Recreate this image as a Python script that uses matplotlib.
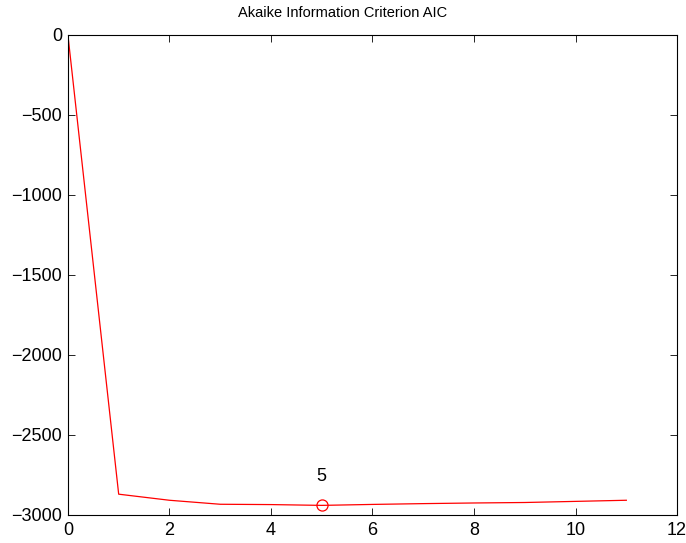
import matplotlib
matplotlib.use("Agg")
import matplotlib.pyplot as plt

# model order vs AIC value
order = [0, 1, 2, 3, 4, 5, 6, 7, 8, 9, 10, 11]
aic = [0, -2870, -2908, -2933, -2935, -2940, -2934, -2929, -2925, -2922, -2915, -2908]
best = 5

plt.rcParams['font.family'] = ['Liberation Sans', 'DejaVu Sans']

fig = plt.figure(figsize=(6.86, 5.43), dpi=100)
ax = fig.add_axes([0.099, 0.0516, 0.888, 0.884])

ax.plot(order, aic, color='red', linewidth=0.9)
ax.plot(best, aic[best], 'o', markerfacecolor='none', markeredgecolor='red',
        markersize=8, markeredgewidth=0.9)
ax.text(best, aic[best] + 125, str(best), ha='center', va='bottom', fontsize=13)

ax.set_xlim(0, 12)
ax.set_ylim(-3000, 0)
ax.set_xticks(range(0, 13, 2))
ax.set_yticks(range(-3000, 1, 500))
ax.set_yticklabels(['\u22123000', '\u22122500', '\u22122000', '\u22121500', '\u22121000', '\u2212500', '0'])
ax.tick_params(direction='in', top=True, right=True, labelsize=13, length=5, width=0.6)
ax.tick_params(axis='x', pad=5)
ax.tick_params(axis='y', pad=4)
for s in ax.spines.values():
    s.set_linewidth(0.8)
fig.text(0.5, 0.976, 'Akaike Information Criterion AIC', ha='center', va='center', fontsize=10.5)

fig.savefig('out.png', dpi=100)
